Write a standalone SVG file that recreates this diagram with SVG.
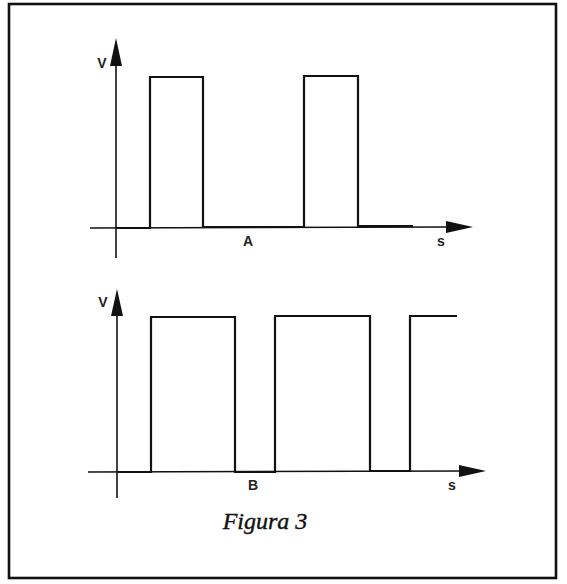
<svg xmlns="http://www.w3.org/2000/svg" width="567" height="584" viewBox="0 0 567 584">
<style>
.axis{stroke:#111;stroke-width:1.6;fill:none}
.wave{stroke:#111;stroke-width:2.2;fill:none;stroke-linejoin:miter}
.head{fill:#111}
.lbl{font-family:"Liberation Sans",Arial,sans-serif;font-size:14px;font-weight:bold;fill:#222;text-anchor:middle}
.cap{font-family:"Liberation Serif","Times New Roman",serif;font-style:italic;font-size:24px;fill:#111;stroke:#111;stroke-width:0.4;text-anchor:middle}
</style>
<rect width="567" height="584" fill="#fff"/>
<rect x="9" y="4" width="547" height="574" fill="none" stroke="#111" stroke-width="2.6"/>
<g id="graphA">
<line class="axis" x1="116" y1="258" x2="116" y2="60"/>
<polygon class="head" points="116,38 110,66 122,66"/>
<line class="axis" x1="90" y1="228" x2="452" y2="227"/>
<polygon class="head" points="473,227 446,221 446,233"/>
<polyline class="wave" points="116,228 150,228 150,77 203,77 203,227 304,227 304,76 358,76 358,226 413,226"/>
<text class="lbl" x="102" y="68">V</text>
<text class="lbl" x="248" y="246">A</text>
<text class="lbl" x="441" y="246">s</text>
</g>
<g id="graphB">
<line class="axis" x1="117" y1="498" x2="117" y2="310"/>
<polygon class="head" points="117,289 111,316 123,316"/>
<line class="axis" x1="88" y1="472" x2="465" y2="471"/>
<polygon class="head" points="486,471 459,465 459,477"/>
<polyline class="wave" points="117,472 151,472 151,317 235,317 235,472 275,472 275,316 370,316 370,471 410,471 410,316 457,316"/>
<text class="lbl" x="103" y="307">V</text>
<text class="lbl" x="253" y="490">B</text>
<text class="lbl" x="452" y="490">s</text>
</g>
<text class="cap" x="265" y="529">Figura 3</text>
</svg>
